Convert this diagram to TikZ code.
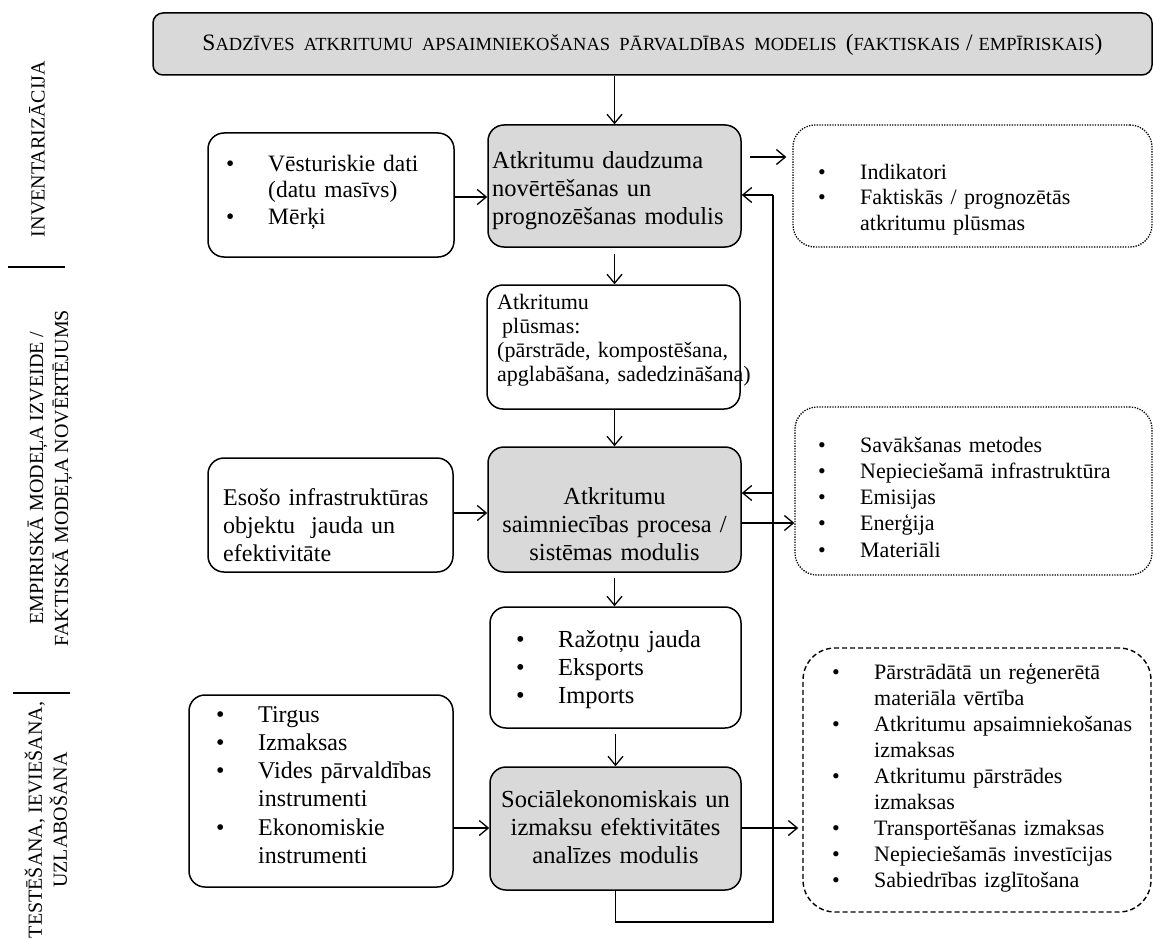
\documentclass[tikz,border=0pt]{standalone}
\usepackage{fontspec}
\setmainfont{Liberation Serif}
\usetikzlibrary{arrows.meta}
\definecolor{boxgray}{HTML}{D9D9D9}

% bullet cell and hanging indent for list-like box contents
\newcommand\bitem{\makebox[42pt][l]{\textbullet}}
\newcommand\bcont{\hspace*{42pt}}
% hand-made small capitals for the heading
\newcommand\tsc[1]{{\fontsize{18.5}{20}\selectfont #1}}

\tikzset{
  x=1pt, y=-1pt,
  box/.style={draw, line width=1.5pt, rounded corners=16pt, inner sep=0pt},
  graybox/.style={box, fill=boxgray},
  dotbox/.style={draw, line width=1.3pt, dash pattern=on 1.3pt off 1.3pt, rounded corners=22pt, inner sep=0pt},
  dashbox/.style={draw, line width=1.4pt, dash pattern=on 5pt off 3pt, rounded corners=32pt, inner sep=0pt},
  arr/.style={line width=1.3pt, -{Straight Barb[length=9pt,width=15pt,line width=1.3pt]}},
  link/.style={line width=1.3pt},
  txt/.style={inner sep=0pt, anchor=base west, align=left, text width=330pt},
  ctxt/.style={inner sep=0pt, anchor=base, align=center},
  bigfont/.style={font=\fontsize{24.5}{28.3}\selectfont},
  leftfont/.style={font=\fontsize{24}{28.3}\selectfont},
  smallfont/.style={font=\fontsize{22}{26}\selectfont},
  side/.style={rotate=90, align=center, inner sep=0pt, font=\fontsize{20}{25}\selectfont},
}

\begin{document}
\begin{tikzpicture}
\useasboundingbox (0,0) rectangle (1153,939);

% heading
\node[graybox, rounded corners=10pt, minimum width=999pt, minimum height=62pt] (title) at (652.5,44) {};
\node[ctxt, font=\fontsize{23.5}{25}\selectfont] (titlet) at (652.5,51)
  {S\tsc{ADZĪVES\ \ ATKRITUMU\ \ APSAIMNIEKOŠANAS\ \ PĀRVALDĪBAS\ \ MODELIS\ \ }(\tsc{FAKTISKAIS} / \tsc{EMPĪRISKAIS})};

% phase labels on the left
\node[side] (lab1) at (37,149) {INVENTARIZĀCIJA};
\node[side] (lab2) at (50,478) {EMPIRISKĀ MODEĻA IZVEIDE /\\FAKTISKĀ MODEĻA NOVĒRTĒJUMS};
\node[side] (lab3) at (46,820) {TESTĒŠANA, IEVIEŠANA,\\UZLABOŠANA};
\draw[link] (8,267) -- (65,267);
\draw[link] (13,693) -- (70,693);

% first row
\node[box, minimum width=246pt, minimum height=124pt] (L1) at (331,195) {};
\node[txt, font=\fontsize{23.5}{26.5}\selectfont] (L1t) at (226,171)
  {\bitem Vēsturiskie dati\\\bcont(datu masīvs)\\\bitem Mērķi};
\node[graybox, minimum width=253pt, minimum height=122pt] (g1) at (614.5,186) {};
\node[txt, bigfont] (g1t) at (492,168)
  {Atkritumu daudzuma\\novērtēšanas un\\prognozēšanas modulis};
\node[dotbox, minimum width=359pt, minimum height=122pt] (R1) at (972.5,186) {};
\node[txt, font=\fontsize{22}{25.5}\selectfont] (R1t) at (818,179)
  {\bitem Indikatori\\\bitem Faktiskās / prognozētās\\\bcont atkritumu plūsmas};

% waste streams
\node[box, minimum width=253pt, minimum height=124pt] (P) at (613.5,347) {};
\node[txt, font=\fontsize{22}{24}\selectfont] (Pt) at (497,309)
  {Atkritumu\\\hspace*{5pt}plūsmas:\\(pārstrāde, kompostēšana,\\apglabāšana, sadedzināšana)};

% second row
\node[box, minimum width=245pt, minimum height=114pt] (L2) at (330.5,515) {};
\node[txt, leftfont] (L2t) at (223,505)
  {Esošo infrastruktūras\\objektu~ jauda un\\efektivitāte};
\node[graybox, minimum width=253pt, minimum height=125pt] (g2) at (614.5,509.5) {};
\node[ctxt, bigfont, text width=250pt] (g2t) at (614.5,504)
  {Atkritumu\\saimniecības procesa /\\sistēmas modulis};
\node[dotbox, minimum width=357pt, minimum height=168pt] (R2) at (973.5,491) {};
\node[txt, font=\fontsize{22}{26.3}\selectfont] (R2t) at (818,452)
  {\bitem Savākšanas metodes\\\bitem Nepieciešamā infrastruktūra\\\bitem Emisijas\\\bitem Enerģija\\\bitem Materiāli};

% capacities
\node[box, minimum width=251pt, minimum height=121pt] (Rz) at (615.5,667.5) {};
\node[txt, bigfont] (Rzt) at (516,647)
  {\bitem Ražotņu jauda\\\bitem Eksports\\\bitem Imports};

% third row
\node[box, minimum width=264pt, minimum height=192pt] (L3) at (321,791) {};
\node[txt, leftfont] (L3t) at (216,722)
  {\bitem Tirgus\\\bitem Izmaksas\\\bitem Vides pārvaldības\\\bcont instrumenti\\\bitem Ekonomiskie\\\bcont instrumenti};
\node[graybox, minimum width=251pt, minimum height=123pt] (g3) at (615.5,828.5) {};
\node[ctxt, bigfont, text width=250pt] (g3t) at (615.5,807)
  {Sociālekonomiskais un\\izmaksu efektivitātes\\analīzes modulis};
\node[dashbox, minimum width=348pt, minimum height=264pt] (R3) at (977,780) {};
\node[txt, smallfont] (R3t) at (832,679)
  {\bitem Pārstrādātā un reģenerētā\\\bcont materiāla vērtība\\\bitem Atkritumu apsaimniekošanas\\\bcont izmaksas\\\bitem Atkritumu pārstrādes\\\bcont izmaksas\\\bitem Transportēšanas izmaksas\\\bitem Nepieciešamās investīcijas\\\bitem Sabiedrības izglītošana};

% vertical flow
\draw[arr] (title.south -| g1.north) -- (g1.north);
\draw[arr, shorten <=6pt] (g1.south) -- (g1.south |- P.north);
\draw[arr] (P.south -| g2.north) -- (g2.north);
\draw[arr, shorten <=5pt] (g2.south) -- (g2.south |- Rz.north);
\draw[arr, shorten <=5pt] (Rz.south) -- (Rz.south |- g3.north);

% horizontal inputs and outputs
\coordinate (y1in) at (0,197);
\coordinate (y1out) at (0,157);
\coordinate (y2in) at (0,513);
\coordinate (y2out) at (0,523);
\coordinate (y3) at (0,828);
\draw[arr] (L1.east |- y1in) -- (g1.west |- y1in);
\draw[arr, shorten <=8pt, shorten >=6pt] (g1.east |- y1out) -- (R1.west |- y1out);
\draw[arr] (L2.east |- y2in) -- (g2.west |- y2in);
\draw[arr] (g2.east |- y2out) -- (R2.west |- y2out);
\draw[arr] (L3.east |- y3) -- (g3.west |- y3);
\draw[arr, shorten >=4pt] (g3.east |- y3) -- (R3.west |- y3);

% feedback loop
\coordinate (fbB) at (773,922);
\coordinate (fbT) at (773,195);
\coordinate (fbM) at (773,493);
\draw[link] (g3.south) |- (fbB) -- (fbT);
\draw[arr] (fbT) -- (fbT -| g1.east);
\draw[arr] (fbM) -- (fbM -| g2.east);
\end{tikzpicture}
\end{document}
